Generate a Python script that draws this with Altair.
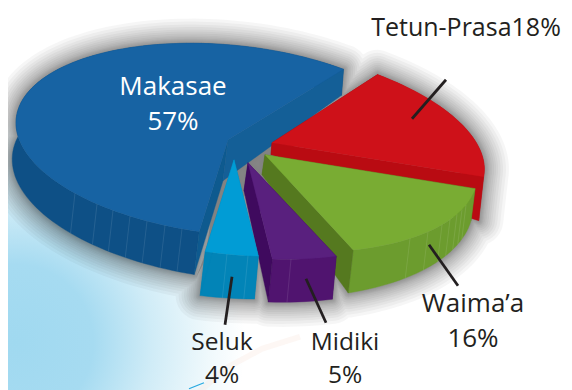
import math
import altair as alt

# ---- chart values ----
LANGUAGES = ["Tetun-Prasa", "Waima’a", "Midiki", "Seluk", "Makasae"]
SHARES = [18, 16, 5, 4, 57]
LABELS_TOP = ["Tetun-Prasa18%", "Waima’a", "16%", "Midiki", "5%", "Seluk", "4%", "Makasae", "57%"]

# ---- styling / layout ----
TOP = ["#CE1119", "#79AC33", "#59207E", "#019CD5", "#1763A3"]
RIM = ["#BD0B13", "#6C9C2E", "#50146F", "#0284B7", "#0E5086"]
CUT_START = ["#8E0A10", "#55791F", "#3F0A5E", "#0284B7", "#145F97"]
CUT_END = ["#B90B12", "#55791F", "#3F0A5E", "#0284B7", "#0E5A8F"]
APEX = [(272, 140), (265, 152), (248, 160), (234, 157), (228, 137)]
APEX_DEPTH = [(-1, 12), (-3, 20), (-4, 28), (-4, 30), (-5, 41)]
DEPTH_START = [(-5, 44), (-4, 32), (-4, 43), (-4, 43), (-5, 43)]
DEPTH_END = [(-5, 44), (-5, 43), (-4, 43), (-5, 44), (-2, 26)]
SEAMS = [[], [410, 428, 442, 450, 457, 462, 466], [291], [227, 248],
         [75, 97, 113, 130, 147, 165, 182]]
A, B = 212, 95
SHEAR_Y = [0.10, 0.10, 0.08, 0.08, 0.08]
SHEAR_X = [0.125, 0, 0, 0, 0]
T0 = -57

DRAW_ORDER = [4, 0, 1, 2, 3]
# the page shrinks a 564px wide svg to fit 556px, so everything is scaled up by S
S = 564 / 556
PROJ = dict(type="identity", scale=S, translate=[-8 * S, -8 * S])


def P(i, t, d=(0, 0)):
    c = APEX[i]
    r = math.radians(t)
    return [c[0] + A * math.cos(r) + SHEAR_X[i] * B * math.sin(r) + d[0],
            c[1] + B * math.sin(r) + SHEAR_Y[i] * A * math.cos(r) + d[1]]


def poly(points, **props):
    pts = [list(p) for p in points]
    return {"type": "Feature", "properties": props,
            "geometry": {"type": "Polygon", "coordinates": [pts + [pts[0]]]}}


def line(points, **props):
    return {"type": "Feature", "properties": props,
            "geometry": {"type": "LineString", "coordinates": [list(p) for p in points]}}


spans = []
acc = T0
for s in SHARES:
    spans.append((acc, acc + s * 3.6))
    acc += s * 3.6

faces, seams, silhouettes = [], [], []
for i in DRAW_ORDER:
    t0, t1 = spans[i]
    c = APEX[i]
    n = max(3, int((t1 - t0) / 2))
    ts = [t0 + (t1 - t0) * j / n for j in range(n + 1)]

    def dep(t):
        f = (t - t0) / (t1 - t0)
        return (DEPTH_START[i][0] * (1 - f) + DEPTH_END[i][0] * f,
                DEPTH_START[i][1] * (1 - f) + DEPTH_END[i][1] * f)

    top = [P(i, t) for t in ts]
    low = [P(i, t, dep(t)) for t in ts]
    ax, ay = c
    apex_low = (ax + APEX_DEPTH[i][0], ay + APEX_DEPTH[i][1])
    cut_a = poly([c, top[0], low[0], apex_low], fill=CUT_START[i] if i != 4 else CUT_END[i])
    cut_b = poly([c, top[-1], low[-1], apex_low], fill=CUT_END[i] if i != 4 else CUT_START[i])
    rim = poly(top + low[::-1], fill=RIM[i])
    face = poly([c] + top, fill=TOP[i])
    if i == 4:
        faces += [rim, cut_a, cut_b, face]
    else:
        faces += [cut_a, rim, cut_b, face]
    silhouettes += [rim["geometry"]["coordinates"], face["geometry"]["coordinates"],
                    cut_a["geometry"]["coordinates"], cut_b["geometry"]["coordinates"]]
    for x in SEAMS[i]:
        t = math.degrees(math.acos((x - c[0]) / A))
        seams.append(line([P(i, t), P(i, t, dep(t))]))

union = {"type": "Feature", "properties": {},
         "geometry": {"type": "MultiPolygon", "coordinates": silhouettes}}

LEADERS = [
    [(446, 77), (412, 116)],
    [(429, 242), (458, 283)],
    [(306, 276), (326, 320)],
    [(232, 274), (225, 322)],
]

TEXT_POS = [(466, 25), (473, 301), (473, 336), (345, 340.5), (345, 373),
            (222, 340.5), (222, 373), (173, 84), (173, 119)]
TEXT_SIZE = [25, 26, 26, 24.5, 24.5, 24.5, 24.5, 26, 26]
TEXT_FILL = ["#231F20"] * 7 + ["#FFFFFF"] * 2


def geo(features):
    return alt.Chart(alt.Data(values=features))


layers = []

# pale blue wash, lower left
CX, CY, R = 15, 340, 230
wash = alt.Chart(alt.Data(values=[{"a": 1}])).mark_rect(
    color=alt.RadialGradient(
        gradient="radial", x1=0.5, y1=0.5, r1=0, x2=0.5, y2=0.5, r2=0.5,
        stops=[alt.GradientStop(offset=0, color="#A0D9F0"),
               alt.GradientStop(offset=0.34, color="#A6DBF1"),
               alt.GradientStop(offset=0.6, color="#D0ECF7"),
               alt.GradientStop(offset=0.85, color="#F0F9FC"),
               alt.GradientStop(offset=1, color="#FFFFFF")])
).encode(x=alt.value((CX - R - 8) * S), x2=alt.value((CX + R - 8) * S),
         y=alt.value((CY - R - 8) * S), y2=alt.value((CY + R - 8) * S))
layers.append(wash)

# faint peach streak and small blue / orange remnants at the foot of the picture
layers.append(geo([line([(196, 392), (225, 366), (262, 346), (300, 334)])]).mark_geoshape(
    filled=False, stroke="#F9E7DF", strokeOpacity=0.35, strokeWidth=6).project(**PROJ))
layers.append(geo([line([(189, 386), (204, 380)])]).mark_geoshape(
    filled=False, stroke="#29A9E0", strokeWidth=1.2).project(**PROJ))
layers.append(geo([line([(183, 391), (187, 388)])]).mark_geoshape(
    filled=False, stroke="#E8562A", strokeWidth=2).project(**PROJ))

# soft shadow: stacked wide outlines of all slices
for w in [2, 4, 6, 8, 10, 13, 16, 20, 24, 28, 33, 38, 44, 50]:
    layers.append(geo([union]).mark_geoshape(
        filled=False, stroke="#000000", strokeWidth=w, strokeOpacity=0.035,
        strokeJoin="round").project(**PROJ))

# dark gap between the slices, near the centre
gap = poly([(222, 140), (285, 130), (270, 175), (235, 200), (196, 275), (206, 250)])
layers.append(geo([gap]).mark_geoshape(fill="#7F7F7F", opacity=0.9).project(**PROJ))

layers.append(geo(faces).mark_geoshape(strokeWidth=0.4).encode(
    fill=alt.Fill("properties.fill:N", scale=None),
    stroke=alt.Stroke("properties.fill:N", scale=None)).project(**PROJ))

layers.append(geo(seams).mark_geoshape(
    filled=False, stroke="#FFFFFF", strokeOpacity=0.13, strokeWidth=0.8).project(**PROJ))

layers.append(geo([line(l) for l in LEADERS]).mark_geoshape(
    filled=False, stroke="#231F20", strokeWidth=2.8).project(**PROJ))

text_rows = [{"label": t, "px": (p[0] - 8) * S, "py": (p[1] - 8) * S, "fill": f, "size": z * S}
             for t, p, f, z in zip(LABELS_TOP, TEXT_POS, TEXT_FILL, TEXT_SIZE)]
layers.append(alt.Chart(alt.Data(values=text_rows)).mark_text(
    font="Open Sans", align="center", baseline="middle").encode(
    x=alt.X("px:Q", scale=None, axis=None),
    y=alt.Y("py:Q", scale=None, axis=None),
    text="label:N",
    size=alt.Size("size:Q", scale=None, legend=None),
    color=alt.Color("fill:N", scale=None)))

chart = alt.layer(*layers).properties(
    width=564, height=388, padding=0,
    autosize=alt.AutoSizeParams(type="none")
).configure_view(stroke=None)

chart.save("out.html", embed_options={"renderer": "svg", "actions": False})
